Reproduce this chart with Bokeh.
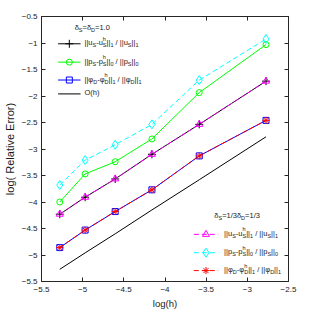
from bokeh.plotting import figure
from bokeh.models import Range1d, LinearAxis, FixedTicker, Label, CustomJSTickFormatter
from bokeh.embed import file_html
from bokeh.resources import INLINE

# ---------------- data ----------------
log_h = [-5.278, -4.970, -4.605, -4.159, -3.584, -2.773]

# delta_S = delta_D = 1.0
err_u_d1 = [-4.23, -3.91, -3.565, -3.10, -2.535, -1.72]
err_p_d1 = [-4.00, -3.47, -3.24, -2.81, -1.936, -1.03]
err_phi_d1 = [-4.86, -4.53, -4.18, -3.77, -3.13, -2.46]
ref_oh = [-5.27, -4.96, -4.60, -4.15, -3.58, -2.77]

# delta_S = 1/3, delta_D = 1/3
err_u_d3 = [-4.23, -3.91, -3.565, -3.10, -2.535, -1.72]
err_p_d3 = [-3.68, -3.21, -2.92, -2.535, -1.70, -0.925]
err_phi_d3 = [-4.86, -4.53, -4.18, -3.77, -3.13, -2.46]

x_ticks = [-5.5, -5, -4.5, -4, -3.5, -3, -2.5]
y_ticks = [-5.5, -5, -4.5, -4, -3.5, -3, -2.5, -2, -1.5, -1, -0.5]
XMIN, XMAX = -5.5, -2.5
YMIN, YMAX = -5.5, -0.5

# ---------------- layout ----------------
W = H = 311
FL, FR, FT, FB = 35, 23, 16, 28     # borders around the frame (px)
AXC = "#262626"
FONT = "Liberation Sans"
NB = "\u00a0"

p = figure(width=W, height=H, output_backend="svg", toolbar_location=None,
           x_range=Range1d(XMIN, XMAX), y_range=Range1d(YMIN, YMAX),
           min_border_left=FL, min_border_right=FR, min_border_top=FT,
           min_border_bottom=FB, background_fill_color="white",
           border_fill_color="white", outline_line_color=AXC)
p.grid.visible = False

for ax in (p.xaxis[0], p.yaxis[0]):
    ax.major_tick_in = 4
    ax.major_tick_out = 0
    ax.minor_tick_in = 0
    ax.minor_tick_out = 0
    ax.axis_line_color = AXC
    ax.major_tick_line_color = AXC
    ax.major_label_text_font = FONT
    ax.major_label_text_font_size = "8px"
    ax.major_label_text_color = "#1a1a1a"
    ax.axis_label_text_font = FONT
    ax.axis_label_text_font_style = "normal"
    ax.axis_label_text_color = "#1a1a1a"

p.xaxis.ticker = FixedTicker(ticks=x_ticks)
p.yaxis.ticker = FixedTicker(ticks=y_ticks)
p.xaxis.major_label_standoff = 5
p.yaxis.major_label_standoff = 4
p.xaxis.axis_label = "log(h)"
p.xaxis.axis_label_text_font_size = "9.5px"
p.xaxis.axis_label_standoff = 3
p.yaxis.axis_label = "log( Relative Error)"
p.yaxis.axis_label_text_font_size = "11px"
p.yaxis.axis_label_standoff = 3

blank = CustomJSTickFormatter(code="return ''")
top = LinearAxis(ticker=FixedTicker(ticks=x_ticks), formatter=blank,
                 major_tick_in=4, major_tick_out=0, minor_tick_in=0, minor_tick_out=0,
                 axis_line_color=AXC, major_tick_line_color=AXC,
                 major_label_standoff=0, major_label_text_font_size="1px")
right = LinearAxis(ticker=FixedTicker(ticks=y_ticks), formatter=blank,
                   major_tick_in=4, major_tick_out=0, minor_tick_in=0, minor_tick_out=0,
                   axis_line_color=AXC, major_tick_line_color=AXC,
                   major_label_standoff=0, major_label_text_font_size="1px")
p.add_layout(top, "above")
p.add_layout(right, "right")

# ---------------- series ----------------
DASH = "5 3"
# group 1 (solid)
p.line(log_h, err_u_d1, line_color="black", line_width=1)
p.scatter(log_h, err_u_d1, marker="cross", size=8, line_color="black", line_width=1)
p.line(log_h, err_p_d1, line_color="#00ff00", line_width=1)
p.scatter(log_h, err_p_d1, marker="circle", size=6, line_color="#00ff00",
          fill_color=None, line_width=1)
p.line(log_h, err_phi_d1, line_color="#0000ff", line_width=1)
p.scatter(log_h, err_phi_d1, marker="square", size=6, line_color="#0000ff",
          fill_color=None, line_width=1)
p.line(log_h, ref_oh, line_color="black", line_width=1)
# group 2 (dashed)
p.line(log_h, err_u_d3, line_color="#ff00ff", line_width=1, line_dash=DASH)
p.scatter(log_h, err_u_d3, marker="triangle", size=7, line_color="#ff00ff",
          fill_color=None, line_width=1)
p.line(log_h, err_p_d3, line_color="#00ffff", line_width=1, line_dash=DASH)
p.scatter(log_h, err_p_d3, marker="diamond", size=9, line_color="#00ffff",
          fill_color=None, line_width=1)
p.line(log_h, err_phi_d3, line_color="#ff0000", line_width=1, line_dash=DASH)
p.scatter(log_h, err_phi_d3, marker="asterisk", size=7, line_color="#ff0000",
          line_width=1)

# ---------------- hand-made legends ----------------
# page-pixel -> data helpers (frame: page x 43..296, y 24..291)
PX0, PX1 = 8 + FL, 8 + W - FR
PY0, PY1 = 8 + FT, 8 + H - FB


def dx(px):
    return XMIN + (px - PX0) / (PX1 - PX0) * (XMAX - XMIN)


def dy(py):
    return YMAX - (py - PY0) / (PY1 - PY0) * (YMAX - YMIN)


AW = {'|': 260, 'u': 556, 'p': 556, 'S': 667, 'D': 722, 'h': 556, '-': 333,
      '/': 278, ' ': 278, NB: 278, '0': 556, '1': 556, '3': 556, '=': 584,
      '.': 278, 'O': 778, '(': 333, ')': 333, 'δ': 556, 'φ': 650}
MS, SS = 7.5, 5.5


def tw(t, size):
    return sum(AW.get(c, 556) for c in t) * size / 1000


def put(t, px, py, size, off_x, off_y, color="#1a1a1a"):
    p.add_layout(Label(x=dx(px), y=dy(py), x_offset=off_x, y_offset=off_y,
                       text=t.replace(" ", NB),
                       text_font=FONT, text_font_size=f"{size}px",
                       text_color=color, text_baseline="middle", text_align="left"))


def rich(segs, px, py):
    """segs: list of (main, sub, sup)"""
    off = 0.0
    for main, sub, sup in segs:
        if main:
            put(main, px, py, MS, off, 0)
            off += tw(main, MS)
        w = 0
        if sub:
            put(sub, px, py, SS, off, -2.5)
            w = tw(sub, SS)
        if sup:
            put(sup, px, py, SS, off, 4)
            w = max(w, tw(sup, SS))
        off += w


def lab_u():
    return [("||u", "S", None), ("-u", "S", "h"), ("||", "1", None),
            (" / ||u", "S", None), ("||", "1", None)]


def lab_p():
    return [("||p", "S", None), ("-p", "S", "h"), ("||", "0", None),
            (" / ||p", "S", None), ("||", "0", None)]


def lab_phi():
    return [("||φ", "D", None), ("-φ", "D", "h"), ("||", "1", None),
            (" / ||φ", "D", None), ("||", "1", None)]


# legend 1
rich([("δ", "S", None), ("=δ", "D", None), ("=1.0", None, None)], 77, 35.5)
L1_rows = [51.5, 70, 88, 102]
l1x = [dx(60), dx(83)]
specs1 = [("black", "cross", 8, lab_u()),
          ("#00ff00", "circle", 6, lab_p()),
          ("#0000ff", "square", 6, lab_phi()),
          ("black", None, 0, [("O(h)", None, None)])]
for row, (col, mk, sz, segs) in zip(L1_rows, specs1):
    p.line(l1x, [dy(row)] * 2, line_color=col, line_width=1)
    if mk:
        p.scatter([dx(71.5)], [dy(row)], marker=mk, size=sz, line_color=col,
                  fill_color=None, line_width=1)
    rich(segs, 87, row - 1)

# legend 2
rich([("δ", "S", None), ("=1/3δ", "D", None), ("=1/3", None, None)], 220, 225)
L2_rows = [243.5, 262, 280]
l2x = [dx(199), dx(224)]
specs2 = [("#ff00ff", "triangle", 7, lab_u()),
          ("#00ffff", "diamond", 9, lab_p()),
          ("#ff0000", "asterisk", 7, lab_phi())]
for row, (col, mk, sz, segs) in zip(L2_rows, specs2):
    p.line(l2x, [dy(row)] * 2, line_color=col, line_width=1, line_dash=DASH)
    p.scatter([dx(211.5)], [dy(row)], marker=mk, size=sz, line_color=col,
              fill_color=None, line_width=1)
    rich(segs, 230, row - 1)

open("out.html", "w").write(file_html(p, INLINE))
